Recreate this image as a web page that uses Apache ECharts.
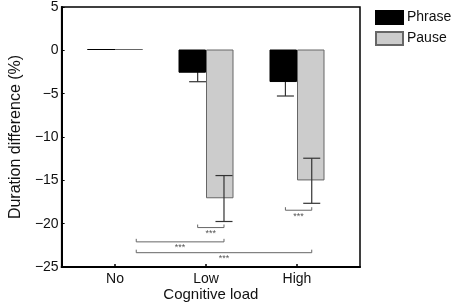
<!DOCTYPE html>
<html>
<head>
<meta charset="utf-8">
<script src="https://cdn.jsdelivr.net/npm/echarts@6/dist/echarts.min.js"></script>
<style>html,body{margin:0;padding:0;background:#fff}#c{width:454px;height:307px}</style>
</head>
<body>
<div id="c"></div>
<script>
const categories = ['No', 'Low', 'High'];
const phrase = [0, -2.67, -3.74];
const pause = [0, -17.1, -15.05];
const phraseErr = [0, 0.95, 1.53];
const pauseErr = [0, 2.65, 2.6];
// significance brackets: [from x, to x, y level]
const brackets = [[1.85, 2.15, -20.45], [2.85, 3.15, -18.45], [1.15, 2.15, -22.1], [1.15, 3.15, -23.35]];
const bracketLabel = '***';
const yMin = -25, yMax = 5, yStep = 5;

const barOffset = 0.15;
const capHalf = 0.097;
const FONT = 'Liberation Sans, Arial, Helvetica, sans-serif';

function errData(vals, errs, side) {
  return vals.map((v, i) => [i + 1 + side * barOffset, v, errs[i]]).filter(d => d[2] > 0);
}
function renderErr(params, api) {
  const x = api.value(0), m = api.value(1), e = api.value(2);
  const top = api.coord([x, m + e]);
  const bot = api.coord([x, m - e]);
  const l1 = api.coord([x - capHalf, m + e]);
  const r1 = api.coord([x + capHalf, m + e]);
  const l2 = api.coord([x - capHalf, m - e]);
  const r2 = api.coord([x + capHalf, m - e]);
  const st = {stroke: '#333', lineWidth: 1.2};
  return {type: 'group', children: [
    {type: 'line', shape: {x1: top[0], y1: top[1], x2: bot[0], y2: bot[1]}, style: st},
    {type: 'line', shape: {x1: l1[0], y1: l1[1], x2: r1[0], y2: r1[1]}, style: st},
    {type: 'line', shape: {x1: l2[0], y1: l2[1], x2: r2[0], y2: r2[1]}, style: st}
  ]};
}
function renderBracket(params, api) {
  const x1 = api.value(0), x2 = api.value(1), y = api.value(2);
  const h = 0.35;
  const a = api.coord([x1, y + h]), b = api.coord([x1, y]), c = api.coord([x2, y]), d = api.coord([x2, y + h]);
  const mid = api.coord([(x1 + x2) / 2, y]);
  return {type: 'group', children: [
    {type: 'polyline', shape: {points: [a, b, c, d]}, style: {stroke: '#666', lineWidth: 1, fill: null}},
    {type: 'text', style: {text: bracketLabel, x: mid[0], y: mid[1] + 1.5, align: 'center', verticalAlign: 'top', fontSize: 9, fill: '#555', fontFamily: FONT}}
  ]};
}

const chart = echarts.init(document.getElementById('c'), null, {renderer: 'canvas'});
chart.setOption({
  animation: false,
  backgroundColor: '#fff',
  textStyle: {fontFamily: FONT},
  legend: {
    data: ['Phrase', 'Pause'], orient: 'vertical', left: 375, top: 10,
    itemWidth: 27, itemHeight: 13, itemGap: 6, padding: 0, icon: 'rect',
    textStyle: {fontSize: 14, color: '#111', fontFamily: FONT, padding: [0, 0, 0, -1]}
  },
  grid: [
    {left: 52, right: 94, top: 6, bottom: 40, show: true, borderColor: '#000', borderWidth: 1.5, backgroundColor: 'transparent'},
    {left: 69.5, right: 111.5, top: 6, bottom: 40}
  ],
  xAxis: [
    {type: 'value', gridIndex: 0, min: 0.3, max: 3.7,
     axisLine: {show: true, onZero: false, lineStyle: {color: '#000', width: 2}},
     axisTick: {show: false}, axisLabel: {show: false}, splitLine: {show: false},
     name: 'Cognitive load', nameLocation: 'middle', nameGap: 20,
     nameTextStyle: {fontSize: 15, color: '#111', fontFamily: FONT}},
    {type: 'category', gridIndex: 1, data: categories,
     axisLine: {show: true, onZero: false, lineStyle: {color: '#000', width: 2}},
     axisTick: {show: true, inside: true, length: 3, alignWithLabel: true, lineStyle: {color: '#000', width: 1.5}},
     axisLabel: {fontSize: 14, color: '#111', margin: 5, fontFamily: FONT}}
  ],
  yAxis: [
    {type: 'value', gridIndex: 0, min: yMin, max: yMax, interval: yStep,
     axisLine: {show: true, onZero: false, lineStyle: {color: '#000', width: 2}},
     axisTick: {show: true, inside: true, length: 3, lineStyle: {color: '#000'}},
     splitLine: {show: false},
     axisLabel: {fontSize: 14, color: '#111', margin: 3, fontFamily: FONT,
       formatter: v => String(v).replace('-', '\u2212')},
     name: 'Duration difference (%)', nameLocation: 'middle', nameGap: 33,
     nameTextStyle: {fontSize: 16, color: '#111', fontFamily: FONT}},
    {type: 'value', gridIndex: 1, min: yMin, max: yMax, interval: yStep, show: false}
  ],
  series: [
    {name: 'Phrase', type: 'bar', xAxisIndex: 1, yAxisIndex: 1, data: phrase, barWidth: 27.5, barGap: '0%', z: 2,
     itemStyle: {color: '#000', borderColor: '#000', borderWidth: 1}},
    {name: 'Pause', type: 'bar', xAxisIndex: 1, yAxisIndex: 1, data: pause, barWidth: 27.5, barGap: '0%', z: 2,
     itemStyle: {color: '#cccccc', borderColor: '#666', borderWidth: 1}},
    {name: 'phraseErr', type: 'custom', xAxisIndex: 0, yAxisIndex: 0, z: 1,
     data: errData(phrase, phraseErr, -1), renderItem: renderErr},
    {name: 'pauseErr', type: 'custom', xAxisIndex: 0, yAxisIndex: 0, z: 3,
     data: errData(pause, pauseErr, 1), renderItem: renderErr},
    {name: 'brackets', type: 'custom', xAxisIndex: 0, yAxisIndex: 0, z: 3,
     data: brackets, renderItem: renderBracket}
  ]
});
</script>
</body>
</html>
